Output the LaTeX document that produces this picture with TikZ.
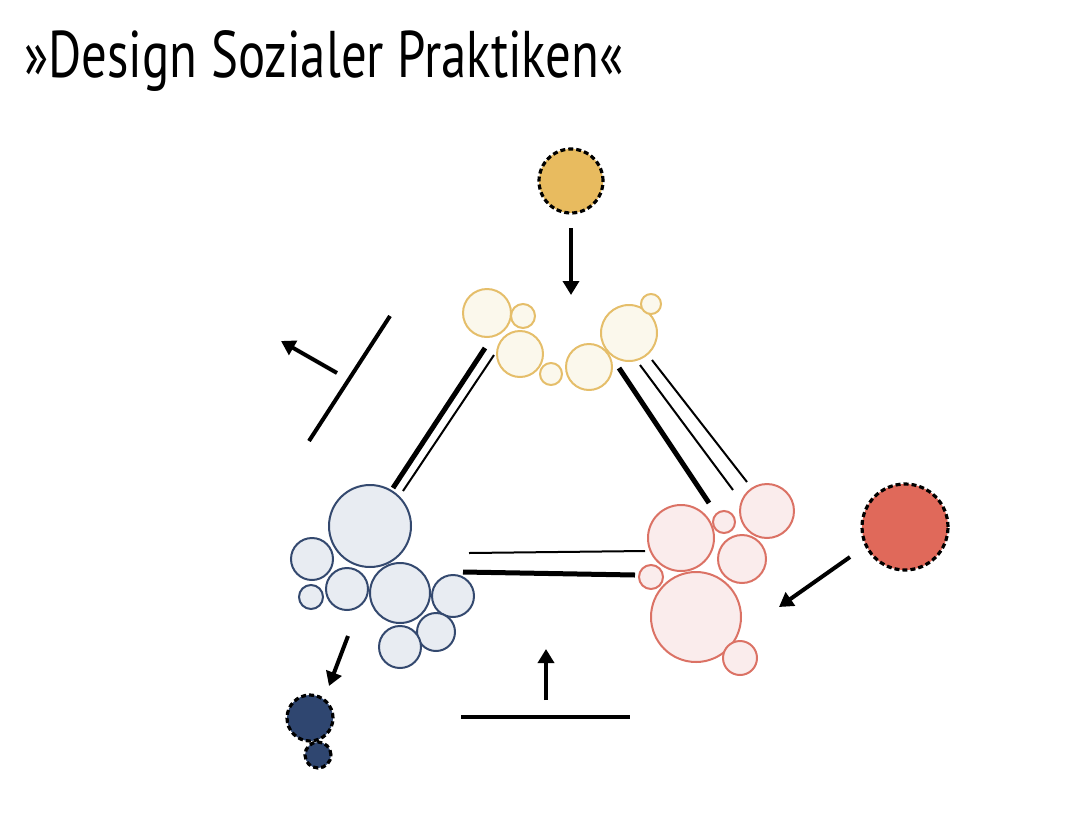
\documentclass[tikz,border=0pt]{standalone}
\usepackage{fontspec}
\setmainfont{PT Sans}[FakeStretch=0.77]
\usetikzlibrary{arrows.meta}
\definecolor{ys}{HTML}{E5BE6A}\definecolor{yf}{HTML}{FBF8EC}\definecolor{yd}{HTML}{E8BB5F}
\definecolor{bs}{HTML}{34496F}\definecolor{bf}{HTML}{E8ECF2}\definecolor{bd}{HTML}{2F4670}
\definecolor{rs}{HTML}{DB7265}\definecolor{rf}{HTML}{FAECEC}\definecolor{rd}{HTML}{E0695A}
\tikzset{
 yc/.style={circle,draw=ys,fill=yf,line width=2pt,inner sep=0pt},
 bc/.style={circle,draw=bs,fill=bf,line width=2pt,inner sep=0pt},
 rc/.style={circle,draw=rs,fill=rf,line width=2pt,inner sep=0pt},
 dc/.style={circle,draw=black,dash pattern=on 5pt off 3pt,line width=3.2pt,inner sep=0pt},
 thk/.style={line width=5pt},
 thn/.style={line width=2pt},
 arr/.style={line width=4pt,-{Triangle[length=14pt,width=16pt]}}
}
\begin{document}
\begin{tikzpicture}[x=1pt,y=-1pt]
\useasboundingbox (0,0) rectangle (1087,828);
\node[anchor=base west,inner sep=0pt,font=\fontsize{66}{72}\selectfont] (title) at (24,77) {»Design Sozialer Praktiken«};
% yellow
\foreach \n/\x/\y/\r in {y1/487/313/24,y2/523/316/12,y3/520/354/23,y4/551/374/11,y5/589/367/23,y6/629/333/28,y7/651/304/10}
 \node[yc,minimum size=2*\r pt] (\n) at (\x,\y) {};
\node[dc,fill=yd,minimum size=64pt] (yd) at (571,181) {};
% blue
\foreach \n/\x/\y/\r in {b1/370/526/41,b2/312/559/21,b3/347/589/21,b4/400/593/30,b5/453/596/21,b6/311/597/12,b7/436/632/19,b8/400/647/21}
 \node[bc,minimum size=2*\r pt] (\n) at (\x,\y) {};
\node[dc,fill=bd,minimum size=46pt] (bd1) at (310,718) {};
\node[dc,fill=bd,minimum size=26pt] (bd2) at (318,755) {};
% red
\foreach \n/\x/\y/\r in {r1/767/511/27,r2/681/538/33,r3/724/522/11,r4/742/559/24,r5/651/577/12,r6/696/617/45,r7/740/658/17}
 \node[rc,minimum size=2*\r pt] (\n) at (\x,\y) {};
\node[dc,fill=rd,minimum size=86pt] (rd) at (905,527) {};
% connecting lines
\draw[thk] (485,348) -- (393,488);
\draw[thn] (494,355) -- (403,491);
\draw[thk] (619,368) -- (709,503);
\draw[thn] (640,365) -- (733,490);
\draw[thn] (652,360) -- (747,482);
\draw[thn] (469,553) -- (645,551);
\draw[thk] (463,572) -- (635,575);
% bars
\draw[line width=4pt] (390,316) -- (309,441);
\draw[line width=4pt] (461,717) -- (630,717);
% arrows
\coordinate (a1) at (337,373); \coordinate (a1e) at (281,341);
\draw[arr] (a1) -- (a1e);
\coordinate (a2) at (546,700); \coordinate (a2e) at (546,649);
\draw[arr] (a2) -- (a2e);
\coordinate (a3) at (571,228); \coordinate (a3e) at (571,295);
\draw[arr] (a3) -- (a3e);
\coordinate (a4) at (850,557); \coordinate (a4e) at (779,607);
\draw[arr] (a4) -- (a4e);
\coordinate (a5) at (348,636); \coordinate (a5e) at (329,686);
\draw[arr] (a5) -- (a5e);
\end{tikzpicture}
\end{document}
